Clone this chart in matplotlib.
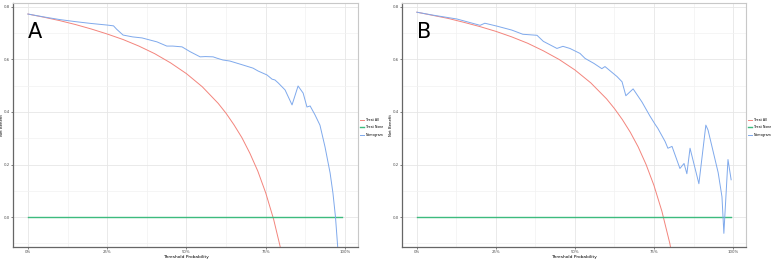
import matplotlib.pyplot as plt
from matplotlib.ticker import MultipleLocator, FuncFormatter

# threshold grid for the treat-all curves
all_x = [0, 0.05, 0.10, 0.15, 0.20, 0.25, 0.30, 0.35, 0.40, 0.45, 0.50,
         0.55, 0.60, 0.625, 0.65, 0.675, 0.70, 0.725, 0.75, 0.775, 0.80, 0.825]
all_a = [0.773, 0.761, 0.748, 0.733, 0.716, 0.697, 0.676, 0.651, 0.622, 0.587, 0.546,
         0.496, 0.433, 0.395, 0.351, 0.302, 0.243, 0.175, 0.092, -0.009, -0.135, -0.297]
all_b = [0.780, 0.768, 0.756, 0.741, 0.725, 0.707, 0.686, 0.662, 0.633, 0.600, 0.560,
         0.511, 0.450, 0.413, 0.371, 0.323, 0.267, 0.200, 0.120, 0.022, -0.100, -0.257]

# treat none
none_a_x = [0, 0.99]
none_b_x = [0, 0.994]
none_y = [0, 0]

# nomogram, panel A
nom_a_x = [0.00, 0.05, 0.10, 0.15, 0.20, 0.25, 0.27, 0.28, 0.30, 0.33, 0.36, 0.385,
           0.407, 0.438, 0.457, 0.486, 0.511, 0.543, 0.56, 0.584, 0.596, 0.615, 0.637,
           0.678, 0.71, 0.726, 0.754, 0.77, 0.779, 0.79, 0.811, 0.833, 0.852, 0.868,
           0.880, 0.890, 0.905, 0.921, 0.937, 0.953, 0.962, 0.970, 0.977, 0.985]
nom_a_y = [0.773, 0.762, 0.752, 0.744, 0.737, 0.731, 0.728, 0.715, 0.693, 0.686, 0.682, 0.674,
           0.667, 0.651, 0.651, 0.648, 0.630, 0.610, 0.611, 0.610, 0.605, 0.598, 0.594,
           0.579, 0.567, 0.556, 0.541, 0.525, 0.522, 0.510, 0.484, 0.427, 0.499, 0.472,
           0.419, 0.423, 0.390, 0.350, 0.267, 0.168, 0.091, 0.000, -0.114, -0.25]

# nomogram, panel B
nom_b_x = [0.00, 0.05, 0.127, 0.20, 0.215, 0.253, 0.30, 0.335, 0.38, 0.40, 0.443, 0.462,
           0.484, 0.516, 0.532, 0.56, 0.585, 0.595, 0.633, 0.649, 0.661, 0.684, 0.712,
           0.737, 0.753, 0.762, 0.785, 0.794, 0.807, 0.832, 0.845, 0.854, 0.864, 0.892,
           0.914, 0.921, 0.953, 0.965, 0.971, 0.984, 0.994]
nom_b_y = [0.780, 0.769, 0.754, 0.730, 0.738, 0.727, 0.712, 0.696, 0.692, 0.669, 0.642, 0.650,
           0.642, 0.623, 0.604, 0.585, 0.565, 0.573, 0.535, 0.515, 0.462, 0.488, 0.438,
           0.385, 0.354, 0.338, 0.288, 0.262, 0.269, 0.185, 0.204, 0.165, 0.262, 0.127,
           0.350, 0.331, 0.169, 0.077, -0.062, 0.219, 0.142]

red = '#F3847C'
green = '#3DBB7E'
blue = '#7FA9EC'

fig = plt.figure(figsize=(7.79, 2.61), dpi=100)
ax1 = fig.add_axes([13/779, 14/261, 345/779, 244/261])
ax2 = fig.add_axes([402/779, 14/261, 344/779, 244/261])

panels = [(ax1, 'A', all_a, none_a_x, nom_a_x, nom_a_y),
          (ax2, 'B', all_b, none_b_x, nom_b_x, nom_b_y)]

for ax, letter, all_y, nx, mx, my in panels:
    ax.plot(all_x, all_y, color=red, lw=0.7, label='Treat All')
    ax.plot(nx, none_y, color=green, lw=1.0, label='Treat None')
    ax.plot(mx, my, color=blue, lw=0.7, label='Nomogram')
    ax.set_xlim(-0.047, 1.041)
    ax.set_ylim(-0.114, 0.815)
    ax.xaxis.set_major_locator(MultipleLocator(0.25))
    ax.xaxis.set_minor_locator(MultipleLocator(0.125))
    ax.yaxis.set_major_locator(MultipleLocator(0.2))
    ax.yaxis.set_minor_locator(MultipleLocator(0.1))
    ax.xaxis.set_major_formatter(FuncFormatter(lambda v, p: f'{v*100:.0f}%'))
    ax.yaxis.set_major_formatter(FuncFormatter(lambda v, p: f'{v:.1f}'))
    ax.grid(which='major', color='#E6E6E6', lw=0.6)
    ax.grid(which='minor', color='#F2F2F2', lw=0.5)
    ax.set_axisbelow(True)
    ax.tick_params(which='major', labelsize=2.8, colors='#4D4D4D', length=1.5, width=0.5, pad=0.8)
    ax.tick_params(which='minor', length=0)
    for s in ['left', 'bottom']:
        ax.spines[s].set_color('#666666')
        ax.spines[s].set_linewidth(0.9)
    for s in ['top', 'right']:
        ax.spines[s].set_color('#C8C8C8')
        ax.spines[s].set_linewidth(0.8)
    ax.set_xlabel('Threshold Probability', fontsize=3.2)
    ax.set_ylabel('Net Benefit', fontsize=2.8)
    ax.xaxis.set_label_coords(0.5, -0.032)
    ax.yaxis.set_label_coords(-0.0265, 0.5)
    ax.text(0.0, 0.68, letter, fontsize=15, color='black')
    ax.legend(loc='center left', bbox_to_anchor=(1.003, 0.49), frameon=False,
              fontsize=2.3, handlelength=1.4, handletextpad=0.5, labelspacing=1.0,
              borderpad=0.1, borderaxespad=0.2)

fig.savefig('out.png', dpi=100)
